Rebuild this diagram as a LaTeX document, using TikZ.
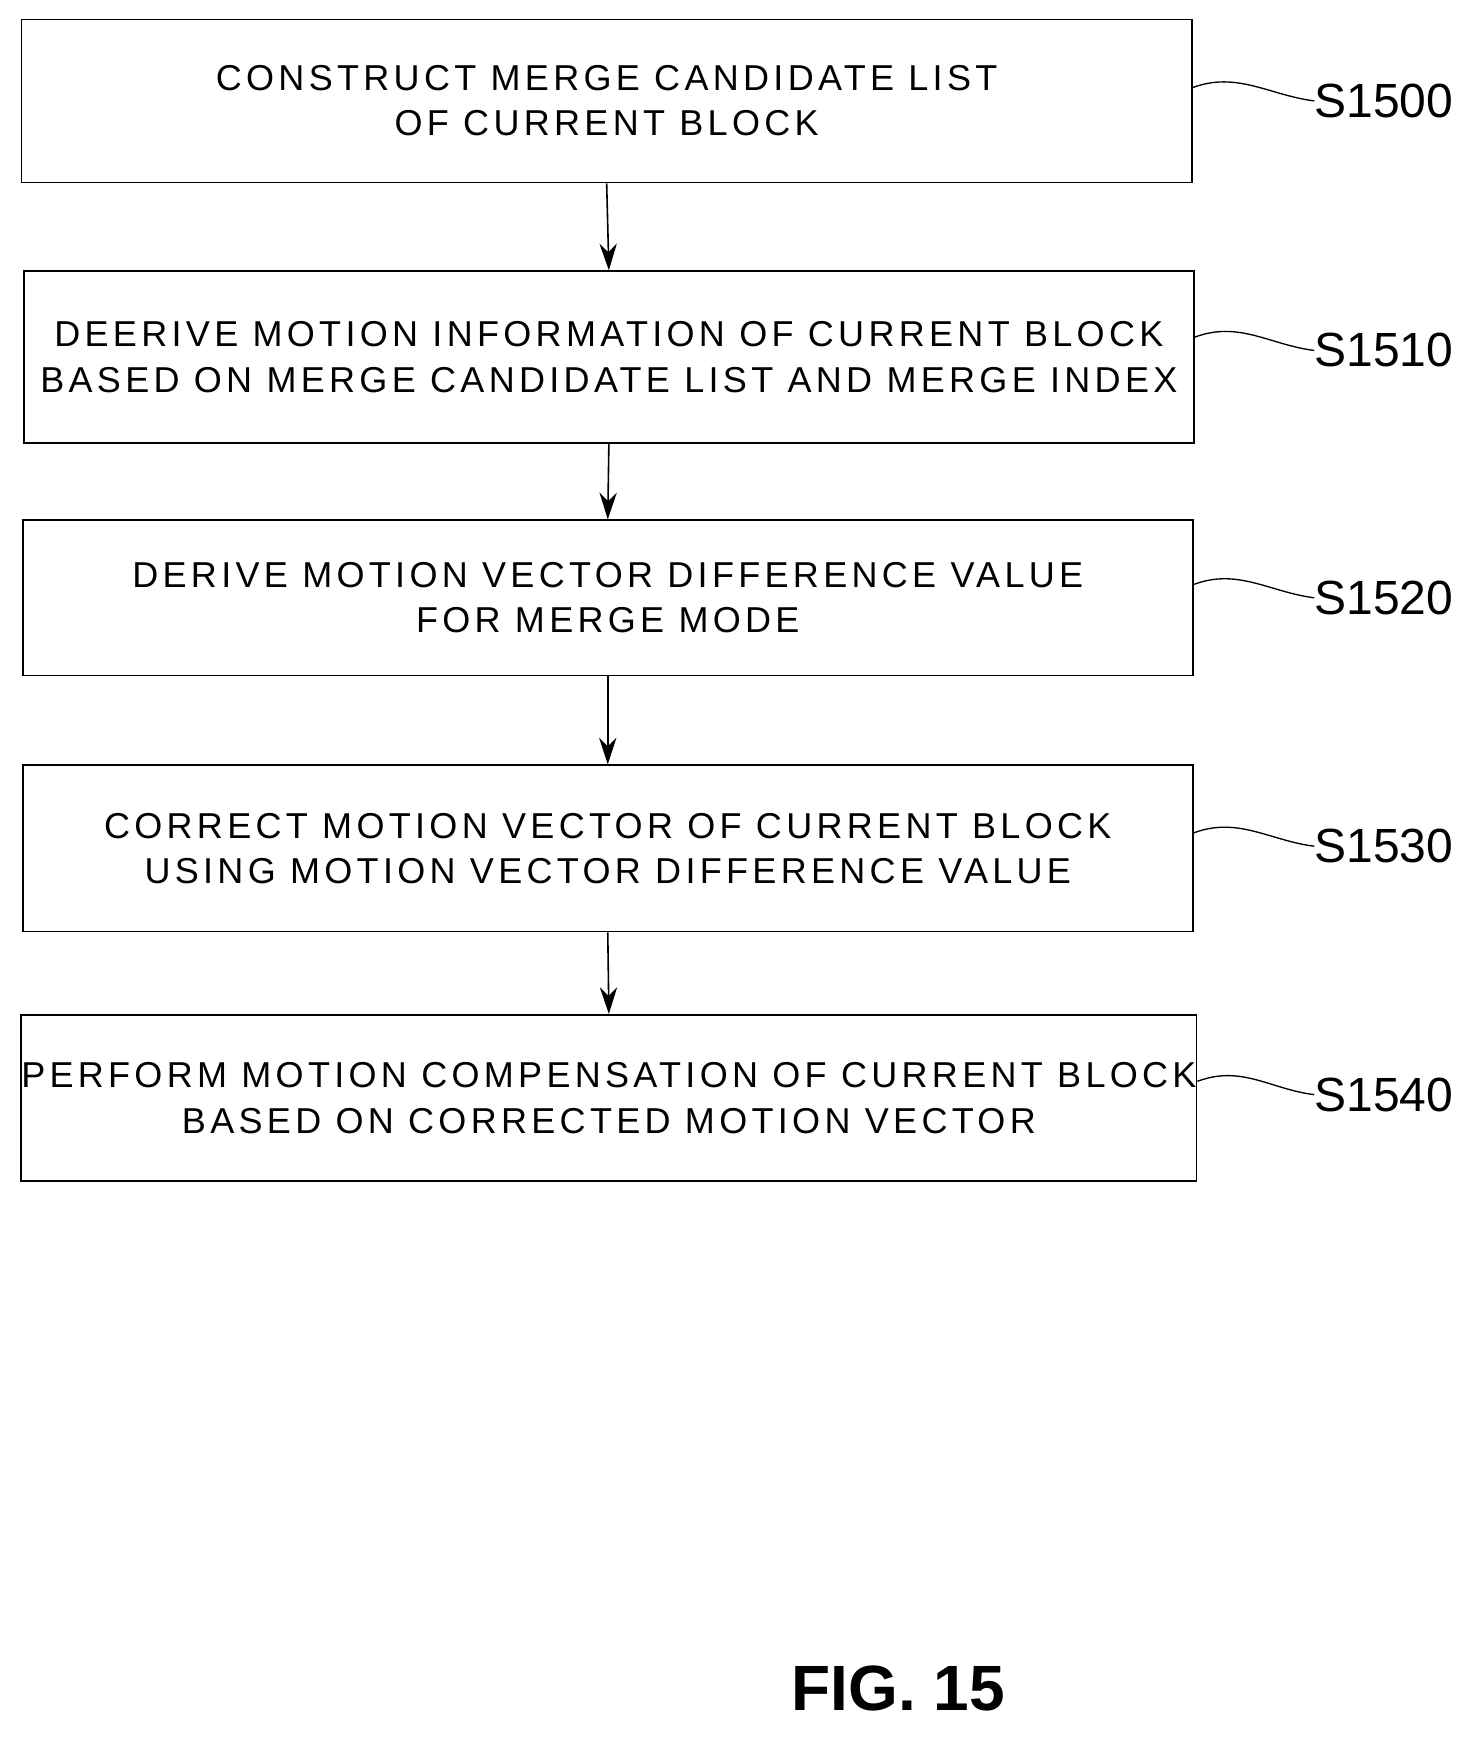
\documentclass[tikz,border=0pt]{standalone}
\usepackage{fontspec}
\setmainfont{Liberation Sans}[LetterSpace=12]
\usetikzlibrary{arrows.meta}
\begin{document}
\begin{tikzpicture}[x=0.832pt,y=-0.832pt,
 box/.style={draw,line width=1.3pt,minimum width=1055*0.832pt,inner sep=0pt,align=center,font=\fontsize{27}{34}\selectfont},
 arr/.style={-{Stealth[length=20pt,width=13pt]},line width=1.2pt},
 lab/.style={font=\fontsize{36}{40}\selectfont\addfontfeature{LetterSpace=0},anchor=west,inner sep=0pt}]
\useasboundingbox (0,0) rectangle (1330,1568);
\node[box,minimum height=147*0.832pt] (b1) at (547,91) {CONSTRUCT MERGE CANDIDATE LIST\\OF CURRENT BLOCK};
\node[box,minimum height=155*0.832pt] (b2) at (549,322) {DEERIVE MOTION INFORMATION OF CURRENT BLOCK\\BASED ON MERGE CANDIDATE LIST AND MERGE INDEX};
\node[box,minimum height=140*0.832pt] (b3) at (548,539) {DERIVE MOTION VECTOR DIFFERENCE VALUE\\FOR MERGE MODE};
\node[box,minimum height=150*0.832pt] (b4) at (548,765) {CORRECT MOTION VECTOR OF CURRENT BLOCK\\USING MOTION VECTOR DIFFERENCE VALUE};
\node[box,minimum height=150*0.832pt] (b5) at (549,990) {PERFORM MOTION COMPENSATION OF CURRENT BLOCK\\BASED ON CORRECTED MOTION VECTOR};
\foreach \a/\b in {b1/b2,b2/b3,b3/b4,b4/b5} \draw[arr] (\a.south) -- (\b.north);
\foreach \n/\t/\y in {b1/S1500/91,b2/S1510/316,b3/S1520/539,b4/S1530/763,b5/S1540/987}{
 \node[lab] (l\t) at (1185,\y) {\t};
 \draw[line width=1pt] (\n.east|-0,\y-12) .. controls +(40,-15) and +(-40,-5) .. (l\t.west|-0,\y);
}
\node[font=\fontsize{48}{50}\selectfont\bfseries\addfontfeature{LetterSpace=0}] (fig) at (810,1522) {FIG. 15};
\end{tikzpicture}
\end{document}
